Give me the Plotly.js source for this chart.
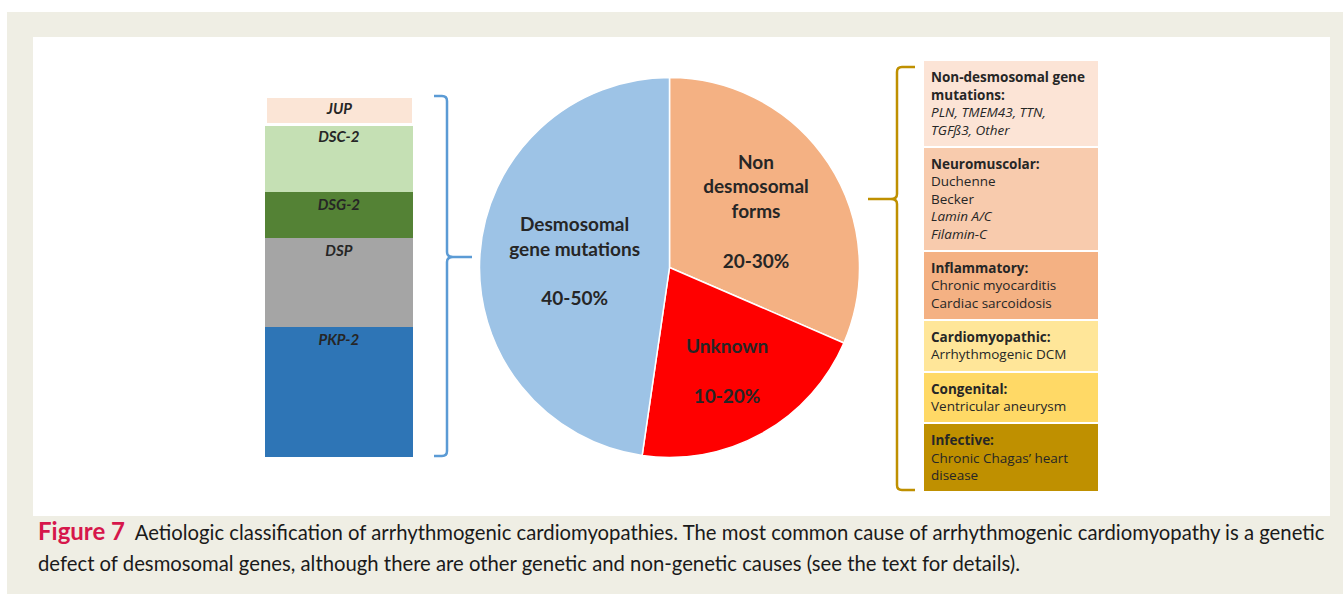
<!DOCTYPE html>
<html>
<head>
<meta charset="utf-8">
<script src="https://cdn.plot.ly/plotly-3.0.1.min.js"></script>
<style>html,body{margin:0;padding:0;background:#fff;}#chart{width:1343px;height:594px;}</style>
</head>
<body>
<div id="chart"></div>
<script>
// ---------- data ----------
const pieLabels = ['Non desmosomal forms', 'Unknown', 'Desmosomal gene mutations'];
const pieLines = [['Non', 'desmosomal', 'forms'], ['Unknown'], ['Desmosomal', 'gene mutations']];
const pieShares = [31.5, 20.8, 47.7];
const pieRanges = ['20-30%', '10-20%', '40-50%'];

const genes = ['PKP-2', 'DSP', 'DSG-2', 'DSC-2', 'JUP'];
const geneShares = [36.0, 24.7, 12.7, 18.8, 7.8];

const groupTitles = ['Non-desmosomal gene<br>mutations:', 'Neuromuscolar:', 'Inflammatory:', 'Cardiomyopathic:', 'Congenital:', 'Infective:'];
const groupItems = [
  ['<i>PLN, TMEM43, TTN,</i>', '<i>TGFß3, Other</i>'],
  ['Duchenne', 'Becker', '<i>Lamin A/C</i>', '<i>Filamin-C</i>'],
  ['Chronic myocarditis', 'Cardiac sarcoidosis'],
  ['Arrhythmogenic DCM'],
  ['Ventricular aneurysm'],
  ['Chronic Chagas’ heart', 'disease']
];

const captionLabel = 'Figure 7';
const captionLine1 = 'Aetiologic classification of arrhythmogenic cardiomyopathies. The most common cause of arrhythmogenic cardiomyopathy is a genetic';
const captionLine2 = 'defect of desmosomal genes, although there are other genetic and non-genetic causes (see the text for details).';

// ---------- styles ----------
const W = 1343, H = 594;
const px = x => x / W;
const py = y => 1 - y / H;
const pieColors = ['#f4b183', '#ff0000', '#9dc3e6'];
const geneColors = ['#2e75b6', '#a5a5a5', '#548235', '#c5e0b4', '#fbe5d6'];
const groupColors = ['#fce4d6', '#f8cbad', '#f4b183', '#ffe699', '#ffd966', '#bf9000'];
const txt = '#262626';
const FONT = 'Lato, "Open Sans", sans-serif';
const BOXFONT = '"Open Sans", Lato, sans-serif';

// ---------- traces ----------
const pieTrace = {
  type: 'pie',
  labels: pieLabels,
  values: pieShares,
  text: pieLines.map((l, i) => l.join('<br>') + '<br><br>' + pieRanges[i]),
  textinfo: 'text',
  textposition: 'inside',
  insidetextorientation: 'horizontal',
  hoverinfo: 'label+text',
  sort: false,
  direction: 'clockwise',
  rotation: 0,
  marker: {colors: pieColors, line: {color: '#ffffff', width: 1.5}},
  textfont: {family: FONT, size: 19, color: txt, weight: 'bold'},
  domain: {x: [px(479.5), px(859.5)], y: [py(457.5), py(77.5)]},
  showlegend: false
};

const barTraces = genes.map((g, i) => ({
  type: 'bar',
  x: ['genes'],
  y: [geneShares[i]],
  name: g,
  text: [g],
  textposition: 'inside',
  insidetextanchor: 'end',
  constraintext: 'none',
  textangle: 0,
  textfont: {family: FONT, size: 15, color: txt, weight: 'bold', style: 'italic'},
  marker: {color: geneColors[i], line: {color: '#ffffff', width: g === 'JUP' ? 3 : 0}},
  width: 1,
  xaxis: 'x',
  yaxis: 'y',
  showlegend: false,
  hoverinfo: 'name+y'
}));

const groupText = groupTitles.map((t, i) =>
  '<b>' + t.split('<br>').join('</b><br><b>') + '</b><br>' + groupItems[i].join('<br>'));

const tableTrace = {
  type: 'table',
  domain: {x: [px(923), px(1099)], y: [py(580), py(60)]},
  columnwidth: [1],
  header: {
    values: [groupText[0]],
    align: 'left',
    fill: {color: groupColors[0]},
    line: {color: '#ffffff', width: 2},
    font: {family: BOXFONT, size: 13.5, color: txt},
    height: 20
  },
  cells: {
    values: [groupText.slice(1)],
    align: 'left',
    fill: {color: [groupColors.slice(1)]},
    line: {color: '#ffffff', width: 2},
    font: {family: BOXFONT, size: 13.5, color: txt},
    height: 20
  }
};

// ---------- decorations ----------
const fmt = arr => arr.map(v => typeof v === 'number' ? v.toFixed(5) : v).join(' ');
const bluePath = fmt([
  'M', px(434), py(96), 'L', px(442), py(96), 'Q', px(447), py(96), px(447), py(101),
  'L', px(447), py(252), 'Q', px(447), py(257), px(453), py(257), 'L', px(472), py(257),
  'M', px(453), py(257), 'Q', px(447), py(257), px(447), py(262),
  'L', px(447), py(451), 'Q', px(447), py(456), px(442), py(456), 'L', px(434), py(456)
]);
const goldPath = fmt([
  'M', px(915), py(67), 'L', px(902), py(67), 'Q', px(897), py(67), px(897), py(72),
  'L', px(897), py(194), 'Q', px(897), py(199), px(891), py(199), 'L', px(868), py(199),
  'M', px(891), py(199), 'Q', px(897), py(199), px(897), py(204),
  'L', px(897), py(485), 'Q', px(897), py(490), px(902), py(490), 'L', px(915), py(490)
]);

const layout = {
  width: W, height: H,
  margin: {l: 0, r: 0, t: 0, b: 0, pad: 0},
  paper_bgcolor: '#ffffff',
  plot_bgcolor: 'rgba(0,0,0,0)',
  showlegend: false,
  barmode: 'stack',
  bargap: 0,
  xaxis: {domain: [px(265), px(413)], range: [-0.5, 0.5], visible: false, fixedrange: true},
  yaxis: {domain: [py(457), py(96)], range: [0, 100], visible: false, fixedrange: true},
  shapes: [
    {type: 'rect', xref: 'paper', yref: 'paper', x0: px(7), x1: 1, y0: 0, y1: py(12),
     fillcolor: '#efeee4', line: {width: 0}, layer: 'below'},
    {type: 'rect', xref: 'paper', yref: 'paper', x0: px(33), x1: px(1330), y0: py(516), y1: py(37),
     fillcolor: '#ffffff', line: {width: 0}, layer: 'below'},
    {type: 'path', xref: 'paper', yref: 'paper', path: bluePath, line: {color: '#5b9bd5', width: 2.5}},
    {type: 'path', xref: 'paper', yref: 'paper', path: goldPath, line: {color: '#bf9000', width: 2.5}}
  ],
  annotations: [
    {xref: 'paper', yref: 'paper', x: px(36), y: py(530), xanchor: 'left', yanchor: 'middle', showarrow: false,
     text: '<span style="color:#d6174b;font-size:24px"><b>' + captionLabel + '</b></span>  ' + captionLine1,
     font: {family: FONT, size: 20.3, color: '#1a1a1a'}},
    {xref: 'paper', yref: 'paper', x: px(36), y: py(563), xanchor: 'left', yanchor: 'middle', showarrow: false,
     text: captionLine2,
     font: {family: FONT, size: 20.3, color: '#1a1a1a'}}
  ]
};

Plotly.newPlot('chart', [pieTrace, ...barTraces, tableTrace], layout, {displayModeBar: false, staticPlot: true});
</script>
</body>
</html>
